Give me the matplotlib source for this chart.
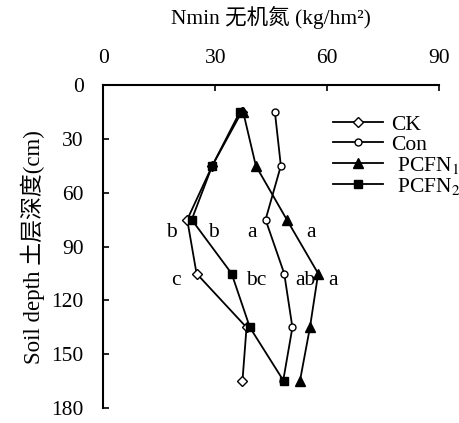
import matplotlib.pyplot as plt

plt.rcParams['font.family'] = ['Liberation Serif', 'Noto Sans CJK SC']
plt.rcParams['mathtext.fontset'] = 'stix'

# Soil depth (cm) and Nmin (kg/hm2) per treatment
depth = [15, 45, 75, 105, 135, 165]
ck = [37.1, 29.2, 22.5, 25.0, 38.4, 37.3]
con = [46.0, 47.6, 43.5, 48.5, 50.7, 48.2]
pcfn1 = [37.5, 40.9, 49.2, 57.6, 55.4, 52.7]
pcfn2 = [36.6, 29.2, 23.7, 34.4, 39.3, 48.4]

# significance letters: (x, depth, text)
letters = [(18.3, 82, 'b'), (29.5, 82, 'b'), (39.8, 82, 'a'), (55.7, 82, 'a'),
           (19.5, 109, 'c'), (40.9, 109, 'bc'), (54.1, 109, 'ab'), (61.7, 109, 'a')]

fig = plt.figure(figsize=(4.59, 4.23), dpi=100)
ax = fig.add_axes([0.225, 0.035, 0.7315, 0.764])

ax.plot(ck, depth, color='black', lw=1.3, marker='D', ms=5, mfc='white', mec='black', mew=1.0, label='CK')
ax.plot(con, depth, color='black', lw=1.3, marker='o', ms=5, mfc='white', mec='black', mew=1.0, label='Con')
ax.plot(pcfn1, depth, color='black', lw=1.3, marker='^', ms=7, mfc='black', mec='black', label=' PCFN$_1$')
ax.plot(pcfn2, depth, color='black', lw=1.3, marker='s', ms=6, mfc='black', mec='black', label=' PCFN$_2$')

for x, y, t in letters:
    ax.text(x, y, t, fontsize=15.5, ha='center', va='center')

ax.set_xlim(0, 90)
ax.set_ylim(180, 0)
ax.set_xticks([0, 30, 60, 90])
ax.set_yticks([0, 30, 60, 90, 120, 150, 180])
ax.xaxis.tick_top()
ax.xaxis.set_label_position('top')
ax.tick_params(direction='in', length=4, width=1.2, labelsize=15.5)
ax.tick_params(axis='x', pad=12)
ax.tick_params(axis='y', pad=14)
ax.spines['right'].set_visible(False)
ax.spines['bottom'].set_visible(False)
ax.spines['top'].set_linewidth(1.5)
ax.spines['left'].set_linewidth(1.5)

ax.set_xlabel('Nmin 无机氮 (kg/hm²)', fontsize=15.5, labelpad=18)
ax.set_ylabel('Soil depth 土层深度(cm)', fontsize=16.5, labelpad=5)

ax.legend(loc='upper left', bbox_to_anchor=(0.66, 0.935), frameon=False, fontsize=15.5,
          handlelength=2.3, labelspacing=0.0, handletextpad=0.4, borderaxespad=0)

fig.savefig('out.png', dpi=100)
